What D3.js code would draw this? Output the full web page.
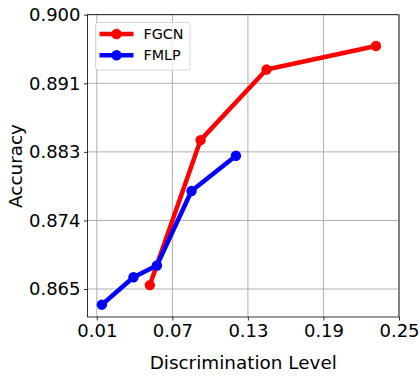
<!DOCTYPE html>
<html>
<head>
<meta charset="utf-8">
<script src="https://cdn.jsdelivr.net/npm/d3@7"></script>
<style>
  body { margin: 0; background: #fff; }
  text { font-family: "DejaVu Sans", sans-serif; fill: #000; }
</style>
</head>
<body>
<div id="chart"></div>
<script>
var xTicks = [0.01, 0.07, 0.13, 0.19, 0.25];
var yTicks = [0.865, 0.87375, 0.8825, 0.89125, 0.9];
var yTickLabels = ["0.865", "0.874", "0.883", "0.891", "0.900"];

var fgcnX = [0.0521, 0.0924, 0.1448, 0.2317];
var fgcnY = [0.8655, 0.8840, 0.8930, 0.8960];
var fmlpX = [0.0140, 0.0391, 0.0577, 0.0852, 0.1205];
var fmlpY = [0.8630, 0.8665, 0.8680, 0.8775, 0.8820];

var series = [
  { name: "FGCN", color: "#ff0000", xs: fgcnX, ys: fgcnY },
  { name: "FMLP", color: "#0000ff", xs: fmlpX, ys: fmlpY }
];

var width = 420, height = 376;
var margin = { left: 87.5, right: 21, top: 14.7, bottom: 59 };

var svg = d3.select("#chart").append("svg")
  .attr("width", width)
  .attr("height", height);

var x = d3.scaleLinear()
  .domain([0.0026, 0.25])
  .range([margin.left, width - margin.right]);

var y = d3.scaleLinear()
  .domain([0.86143, 0.9])
  .range([height - margin.bottom, margin.top]);

// grid
svg.append("g")
  .selectAll("line")
  .data(xTicks)
  .enter().append("line")
  .attr("x1", x).attr("x2", x)
  .attr("y1", y.range()[0]).attr("y2", y.range()[1])
  .attr("stroke", "#b0b0b0").attr("stroke-width", 1);

svg.append("g")
  .selectAll("line")
  .data(yTicks)
  .enter().append("line")
  .attr("y1", y).attr("y2", y)
  .attr("x1", x.range()[0]).attr("x2", x.range()[1])
  .attr("stroke", "#b0b0b0").attr("stroke-width", 1);

// axes
var xAxis = svg.append("g")
  .attr("transform", "translate(0," + y.range()[0] + ")")
  .call(d3.axisBottom(x).tickValues(xTicks).tickSize(3.5).tickPadding(3.5)
    .tickFormat(d3.format(".2f")));

var yAxis = svg.append("g")
  .attr("transform", "translate(" + x.range()[0] + ",0)")
  .call(d3.axisLeft(y).tickValues(yTicks).tickSize(3.5).tickPadding(3.5)
    .tickFormat(function(d, i) { return yTickLabels[i]; }));

[xAxis, yAxis].forEach(function(a) {
  a.select(".domain").remove();
  a.selectAll("text").style("font-size", "18px").style("font-family", "DejaVu Sans");
  a.selectAll("line").attr("stroke", "#000").attr("stroke-width", 0.8);
});

// frame
svg.append("rect")
  .attr("x", x.range()[0]).attr("y", y.range()[1])
  .attr("width", x.range()[1] - x.range()[0])
  .attr("height", y.range()[0] - y.range()[1])
  .attr("fill", "none").attr("stroke", "#000").attr("stroke-width", 0.8);

// series
var line = d3.line()
  .x(function(d) { return x(d[0]); })
  .y(function(d) { return y(d[1]); });

series.forEach(function(s) {
  var pts = s.xs.map(function(v, i) { return [v, s.ys[i]]; });
  svg.append("path")
    .datum(pts)
    .attr("d", line)
    .attr("fill", "none")
    .attr("stroke", s.color)
    .attr("stroke-width", 4.5)
    .attr("stroke-linejoin", "round")
    .attr("stroke-linecap", "butt");
  svg.append("g").selectAll("circle")
    .data(pts)
    .enter().append("circle")
    .attr("cx", function(d) { return x(d[0]); })
    .attr("cy", function(d) { return y(d[1]); })
    .attr("r", 5.2)
    .attr("fill", s.color);
});

// axis labels
svg.append("text")
  .attr("x", (x.range()[0] + x.range()[1]) / 2)
  .attr("y", 369)
  .attr("text-anchor", "middle")
  .style("font-size", "18.4px")
  .text("Discrimination Level");

svg.append("text")
  .attr("transform", "translate(22," + 166 + ") rotate(-90)")
  .attr("text-anchor", "middle")
  .style("font-size", "18.4px")
  .text("Accuracy");

// legend
var legend = svg.append("g");
legend.append("rect")
  .attr("x", 95.5).attr("y", 22.5)
  .attr("width", 94.5).attr("height", 47.5)
  .attr("rx", 2.5)
  .attr("fill", "#fff").attr("fill-opacity", 0.8)
  .attr("stroke", "#d6d6d6").attr("stroke-width", 1);

series.forEach(function(s, i) {
  var ly = 34 + i * 21.3;
  legend.append("line")
    .attr("x1", 99.5).attr("x2", 133.5)
    .attr("y1", ly).attr("y2", ly)
    .attr("stroke", s.color).attr("stroke-width", 4.5);
  legend.append("circle")
    .attr("cx", 116.5).attr("cy", ly).attr("r", 5.2)
    .attr("fill", s.color);
  legend.append("text")
    .attr("x", 143.5).attr("y", ly + 5)
    .style("font-size", "14.3px")
    .text(s.name);
});
</script>
</body>
</html>
